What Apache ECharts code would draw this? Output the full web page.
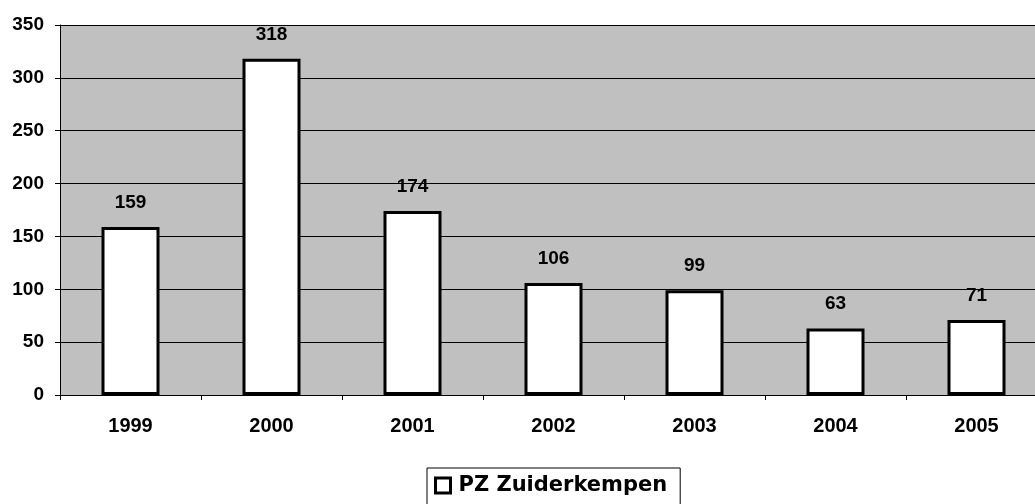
<!DOCTYPE html>
<html>
<head>
<meta charset="utf-8">
<script src="https://cdn.jsdelivr.net/npm/echarts@6/dist/echarts.min.js"></script>
<style>
  html, body { margin: 0; padding: 0; background: #fff; }
  #main { width: 1035px; height: 504px; }
</style>
</head>
<body>
<div id="main"></div>
<script>
const years = ['1999', '2000', '2001', '2002', '2003', '2004', '2005'];
const counts = [159, 318, 174, 106, 99, 63, 71];
const seriesName = 'PZ Zuiderkempen';

const chart = echarts.init(document.getElementById('main'));
chart.setOption({
  animation: false,
  textStyle: { fontFamily: 'Liberation Sans, Arial, sans-serif' },
  // plot area runs past the right edge of the picture, like the original
  grid: {
    left: 60,
    top: 25,
    width: 987,
    height: 370,
    outerBoundsMode: 'none',
    show: true,
    backgroundColor: '#c0c0c0',
    borderWidth: 0
  },
  legend: {
    top: 468,
    left: 427,
    data: [seriesName],
    icon: 'rect',
    itemWidth: 15,
    itemHeight: 15,
    padding: [7, 13, 9, 7],
    borderColor: '#000',
    borderWidth: 1,
    textStyle: {
      fontFamily: 'DejaVu Sans',
      fontSize: 21,
      fontWeight: 'bold',
      color: '#000',
      padding: [0, 0, 0, 3]
    },
    itemStyle: { color: '#fff', borderColor: '#000', borderWidth: 3 }
  },
  xAxis: {
    type: 'category',
    data: years,
    axisLine: { lineStyle: { color: '#000', width: 1 } },
    axisTick: { show: true, length: 5, lineStyle: { color: '#000' } },
    axisLabel: { fontSize: 20, fontWeight: 'bold', color: '#000', margin: 21 }
  },
  yAxis: {
    type: 'value',
    min: 0,
    max: 350,
    interval: 50,
    axisLine: { show: true, lineStyle: { color: '#000', width: 1 } },
    axisTick: { show: true, length: 5, lineStyle: { color: '#000' } },
    axisLabel: { fontSize: 19, fontWeight: 'bold', color: '#000', margin: 16 },
    splitLine: { show: true, lineStyle: { color: '#000', width: 1 } }
  },
  series: [{
    name: seriesName,
    type: 'bar',
    data: counts,
    barWidth: 58,
    itemStyle: { color: '#fff', borderColor: '#000', borderWidth: 3 },
    label: {
      show: true,
      position: 'top',
      distance: 15,
      fontSize: 19,
      fontWeight: 'bold',
      color: '#000'
    }
  }]
});
</script>
</body>
</html>
